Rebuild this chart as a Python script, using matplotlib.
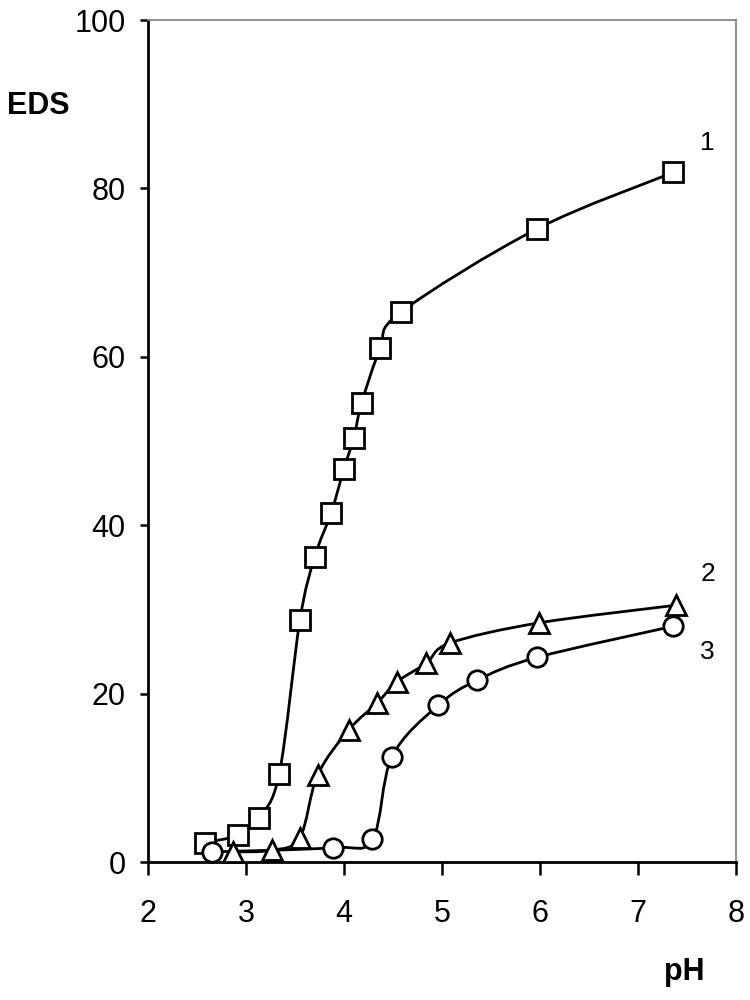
import matplotlib
matplotlib.use("Agg")
from matplotlib import pyplot as plt
from matplotlib.path import Path
from matplotlib.patches import PathPatch

plt.rcParams['font.family'] = ['Liberation Sans', 'DejaVu Sans']

# curve 1 (squares)
ph1 = [2.58, 2.92, 3.13, 3.34, 3.55, 3.70, 3.87, 4.00, 4.10, 4.18, 4.37, 4.58, 5.97, 7.36]
eds1 = [2.3, 3.2, 5.2, 10.5, 28.7, 36.2, 41.5, 46.7, 50.4, 54.5, 61.0, 65.3, 75.2, 81.9]

# curve 2 (triangles)
ph2 = [2.87, 3.27, 3.55, 3.73, 4.05, 4.34, 4.54, 4.84, 5.08, 5.99, 7.39]
eds2 = [1.2, 1.4, 2.9, 10.3, 15.7, 18.9, 21.4, 23.6, 26.0, 28.4, 30.5]

# curve 3 (circles)
ph3 = [2.65, 3.89, 4.29, 4.49, 4.96, 5.36, 5.97, 7.36]
eds3 = [1.2, 1.7, 2.7, 12.5, 18.6, 21.6, 24.3, 28.0]


def smooth_line(ax, xs, ys):
    # excel-like "smoothed line": bezier segments through the points
    pts = list(zip(xs, ys))
    verts = [pts[0]]
    codes = [Path.MOVETO]
    n = len(pts)
    for i in range(n - 1):
        p0 = pts[i - 1] if i > 0 else pts[i]
        p1 = pts[i]
        p2 = pts[i + 1]
        p3 = pts[i + 2] if i + 2 < n else pts[i + 1]
        c1 = (p1[0] + (p2[0] - p0[0]) / 6, p1[1] + (p2[1] - p0[1]) / 6)
        c2 = (p2[0] - (p3[0] - p1[0]) / 6, p2[1] - (p3[1] - p1[1]) / 6)
        verts += [c1, c2, p2]
        codes += [Path.CURVE4] * 3
    ax.add_patch(PathPatch(Path(verts, codes), facecolor='none', edgecolor='black',
                           linewidth=2, zorder=2, capstyle='round', joinstyle='round'))


fig = plt.figure(figsize=(7.5, 10), dpi=100)
ax = fig.add_axes([0.1973, 0.138, 0.784, 0.842])

style = dict(linestyle='none', markersize=14, markeredgewidth=2,
             markerfacecolor='white', markeredgecolor='black', clip_on=False, zorder=3)
for xs, ys, m in [(ph1, eds1, 's'), (ph2, eds2, '^'), (ph3, eds3, 'o')]:
    smooth_line(ax, xs, ys)
    ax.plot(xs, ys, marker=m, **style)

ax.text(7.71, 85.4, '1', fontsize=19, ha='center', va='center')
ax.text(7.71, 34.2, '2', fontsize=19, ha='center', va='center')
ax.text(7.71, 24.9, '3', fontsize=19, ha='center', va='center')

ax.set_xlim(2, 8)
ax.set_ylim(0, 100)
ax.set_xticks(range(2, 9))
ax.set_yticks(range(0, 101, 20))

for s in ['left', 'bottom']:
    ax.spines[s].set_linewidth(2)
    ax.spines[s].set_color('black')
for s in ['top', 'right']:
    ax.spines[s].set_linewidth(1.3)
    ax.spines[s].set_color('#888888')

ax.tick_params(axis='x', direction='out', length=9, width=1.8, labelsize=22, pad=18)
ax.tick_params(axis='y', direction='out', length=6, width=1.8, labelsize=22, pad=10)

fig.text(0.051, 0.894, 'EDS', fontsize=22, fontweight='bold', ha='center', va='center')
fig.text(0.912, 0.02, 'pH', fontsize=22, fontweight='bold', ha='center', va='baseline')

plt.savefig('out.png')
